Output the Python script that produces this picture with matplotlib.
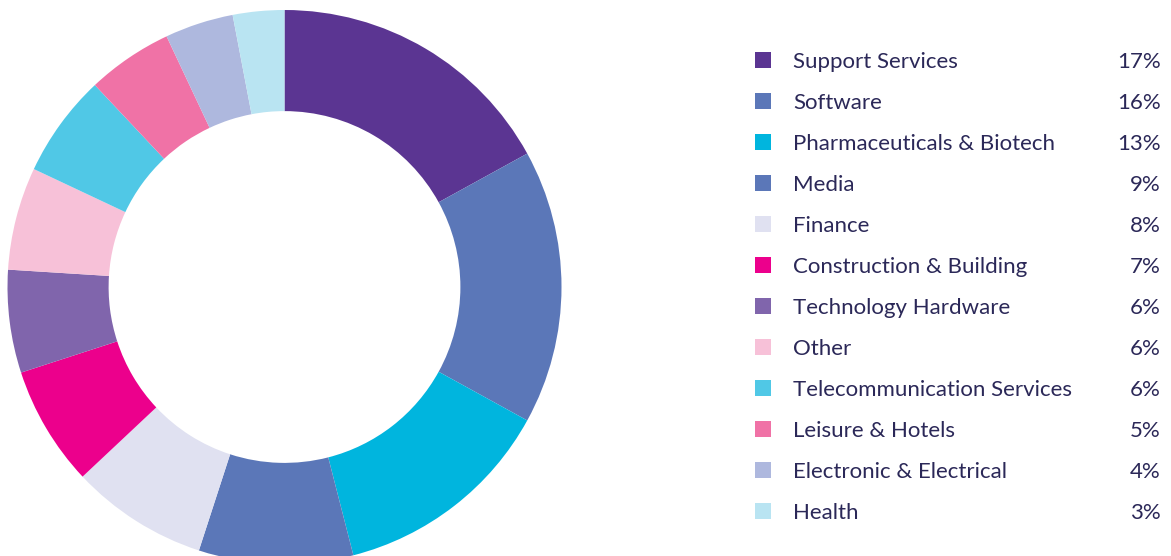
import matplotlib
matplotlib.use("Agg")
import matplotlib.pyplot as plt
from matplotlib.patches import Rectangle

categories = ["Support Services", "Software", "Pharmaceuticals & Biotech", "Media",
              "Finance", "Construction & Building", "Technology Hardware", "Other",
              "Telecommunication Services", "Leisure & Hotels", "Electronic & Electrical", "Health"]
values = [17, 16, 13, 9, 8, 7, 6, 6, 6, 5, 4, 3]
colors = ["#5b3592", "#5b77b8", "#00b5de", "#5b77b8", "#e0e1f1", "#ec008c",
          "#8065ac", "#f7c1d8", "#50c8e6", "#f072a6", "#aeb8de", "#b9e4f2"]
pct_labels = [f"{v}%" for v in values]

W, H = 1171, 556
fig = plt.figure(figsize=(W / 100, H / 100), dpi=100)
fig.patch.set_facecolor("white")

cx, cy, R = 284.5, 287, 277
ax = fig.add_axes([(cx - R) / W, (H - cy - R) / H, 2 * R / W, 2 * R / H])
ax.pie(values, colors=colors, startangle=90, counterclock=False, radius=1,
       wedgeprops=dict(width=0.365, linewidth=0))
ax.set_xlim(-1, 1)
ax.set_ylim(-1, 1)
ax.set_aspect("equal")
ax.axis("off")

text_color = "#2b2858"
font = "Lato"
y0, dy = 60, 41
for i, (cat, pct, col) in enumerate(zip(categories, pct_labels, colors)):
    y = y0 + i * dy
    fig.patches.append(Rectangle(((755) / W, (H - y - 8) / H), 16 / W, 16 / H,
                                 transform=fig.transFigure, facecolor=col,
                                 edgecolor="none", figure=fig))
    fig.text(793 / W, (H - y) / H, cat, ha="left", va="center_baseline",
             fontsize=16, color=text_color, family=font)
    fig.text(1161 / W, (H - y) / H, pct, ha="right", va="center_baseline",
             fontsize=16, color=text_color, family=font)

fig.savefig("out.png", dpi=100, facecolor="white")
